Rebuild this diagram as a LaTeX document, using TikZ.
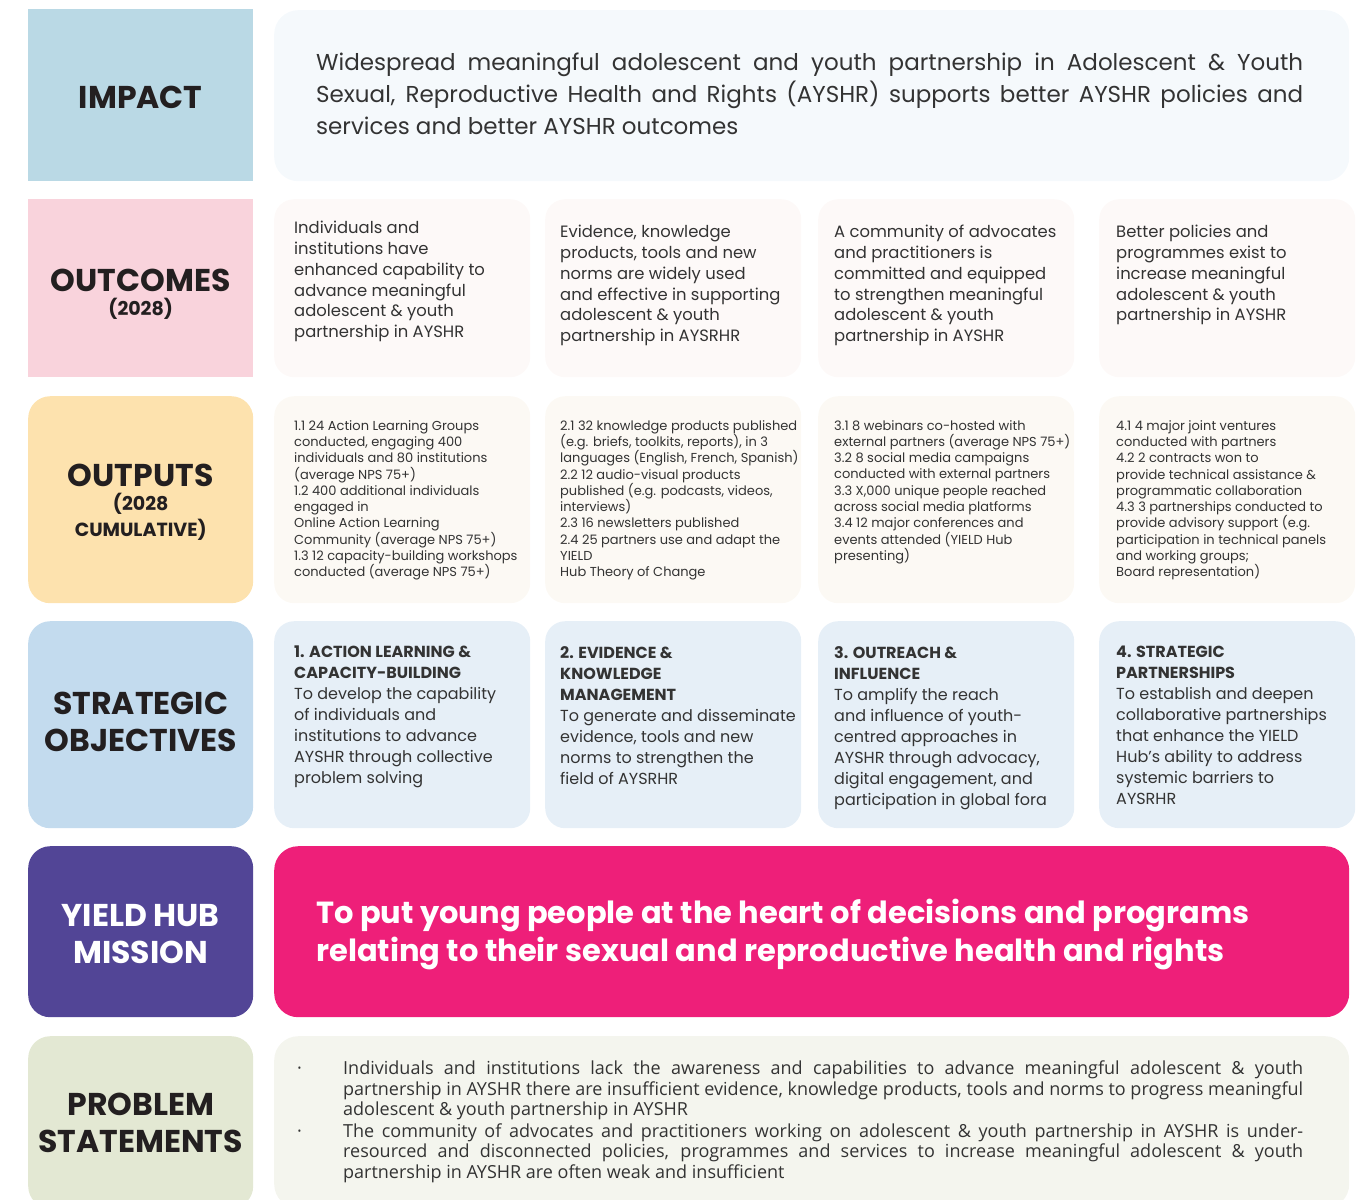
\documentclass[tikz,border=0pt]{standalone}
\usepackage{fontspec}
\setmainfont{Poppins}
\newfontfamily\listfont{Open Sans}
\usetikzlibrary{positioning}
\usepackage{xcolor}
\definecolor{impactblue}{HTML}{BAD9E5}
\definecolor{impactpale}{HTML}{F5F9FC}
\definecolor{outcomepink}{HTML}{F9D3DC}
\definecolor{outcomepale}{HTML}{FDF9F8}
\definecolor{outputsand}{HTML}{FDE2AE}
\definecolor{outputpale}{HTML}{FCF9F4}
\definecolor{objblue}{HTML}{C3DBEE}
\definecolor{objpale}{HTML}{E6EFF7}
\definecolor{missionpurple}{HTML}{524596}
\definecolor{missionpink}{HTML}{EE1F79}
\definecolor{problemsage}{HTML}{E3E8D3}
\definecolor{problempale}{HTML}{F4F5EE}
\definecolor{tagtext}{HTML}{231F20}
\definecolor{bodytext}{HTML}{333333}

\begin{document}
\begin{tikzpicture}[x=1pt, y=-1pt,
    tag/.style={rounded corners=22pt, minimum width=225pt, anchor=north west, inner sep=0pt},
    tagtext/.style={inner sep=0pt, align=center, text=tagtext, font=\bfseries\fontsize{31.5}{37}\selectfont},
    wide/.style={rounded corners=24pt, minimum width=1075pt, anchor=north west, inner sep=0pt},
    card/.style={rounded corners=20pt, minimum width=256pt, anchor=north west, inner sep=0pt},
    cardtext/.style={anchor=north west, inner sep=0pt, align=left, text=bodytext},
    outcometext/.style={cardtext, font=\fontsize{16.4}{20.8}\selectfont},
    outputtext/.style={cardtext, font=\fontsize{13}{16.3}\selectfont},
    objtext/.style={cardtext, font=\fontsize{16}{21}\selectfont},
    bullet/.style={anchor=north west, inner sep=0pt, text width=960pt, align=justify, text=bodytext,
                   font=\listfont\fontsize{18}{20.8}\selectfont},
    dot/.style={anchor=north west, inner sep=0pt, text=bodytext, font=\listfont\fontsize{18}{20.8}\selectfont}]
  \useasboundingbox (0,0) rectangle (1364,1199);

  % impact
  \node[tag, sharp corners, fill=impactblue, minimum height=172pt] (impact) at (28,9) {};
  \node[tagtext] (impactlabel) at ([yshift=-2pt]impact.center) {IMPACT};
  \node[wide, fill=impactpale, minimum height=171pt] (impactbox) at (274,10) {};
  \node[anchor=north west, inner sep=0pt, text width=987pt, align=justify, text=bodytext,
        font=\fontsize{23}{32}\selectfont] (impacttext) at (316,53)
    {Widespread meaningful adolescent and youth partnership in Adolescent \& Youth\linebreak
     Sexual, Reproductive Health and Rights (AYSHR) supports better AYSHR policies and\linebreak
     services and better AYSHR outcomes};

  % outcomes
  \node[tag, sharp corners, fill=outcomepink, minimum height=178pt] (outcomes) at (28,199) {};
  \node[tagtext] (outcomeslabel) at ([yshift=-6pt]outcomes.center)
    {OUTCOMES\\[-13pt]{\fontsize{19}{23}\selectfont (2028)}};
  \node[card, fill=outcomepale, minimum height=178pt] (oc1) at (274,199) {};
  \node[card, fill=outcomepale, minimum height=178pt] (oc2) at (545,199) {};
  \node[card, fill=outcomepale, minimum height=178pt] (oc3) at (818,199) {};
  \node[card, fill=outcomepale, minimum height=178pt] (oc4) at (1099,199) {};
  \node[outcometext] (oc1t) at (294,221)
    {Individuals and\\institutions have\\enhanced capability to\\advance meaningful\\adolescent \& youth\\partnership in AYSHR};
  \node[outcometext] (oc2t) at (560,225)
    {Evidence, knowledge\\products, tools and new\\norms are widely used\\and effective in supporting\\adolescent \& youth\\partnership in AYSRHR};
  \node[outcometext] (oc3t) at (834,225)
    {A community of advocates\\and practitioners is\\committed and equipped\\to strengthen meaningful\\adolescent \& youth\\partnership in AYSHR};
  \node[outcometext] (oc4t) at (1116,225)
    {Better policies and\\programmes exist to\\increase meaningful\\adolescent \& youth\\partnership in AYSHR};

  % outputs
  \node[tag, fill=outputsand, minimum height=207pt] (outputs) at (28,396) {};
  \node[tagtext] (outputslabel) at ([yshift=-3pt]outputs.center)
    {OUTPUTS\\[-13pt]{\fontsize{19}{23}\selectfont (2028}\\[-11pt]{\fontsize{19}{23}\selectfont CUMULATIVE)}};
  \node[card, fill=outputpale, minimum height=207pt] (op1) at (274,396) {};
  \node[card, fill=outputpale, minimum height=207pt] (op2) at (545,396) {};
  \node[card, fill=outputpale, minimum height=207pt] (op3) at (818,396) {};
  \node[card, fill=outputpale, minimum height=207pt] (op4) at (1099,396) {};
  \node[outputtext] (op1t) at (294,420)
    {1.1 24 Action Learning Groups\\conducted, engaging 400\\individuals and 80 institutions\\(average NPS 75+)\\
     1.2 400 additional individuals\\engaged in\\Online Action Learning\\Community (average NPS 75+)\\
     1.3 12 capacity-building workshops\\conducted (average NPS 75+)};
  \node[outputtext] (op2t) at (560,420)
    {2.1 32 knowledge products published\\(e.g. briefs, toolkits, reports), in 3\\languages (English, French, Spanish)\\
     2.2 12 audio-visual products\\published (e.g. podcasts, videos,\\interviews)\\
     2.3 16 newsletters published\\2.4 25 partners use and adapt the\\YIELD\\Hub Theory of Change};
  \node[outputtext] (op3t) at (834,420)
    {3.1 8 webinars co-hosted with\\external partners (average NPS 75+)\\
     3.2 8 social media campaigns\\conducted with external partners\\
     3.3 X,000 unique people reached\\across social media platforms\\
     3.4 12 major conferences and\\events attended (YIELD Hub\\presenting)};
  \node[outputtext] (op4t) at (1116,420)
    {4.1 4 major joint ventures\\conducted with partners\\
     4.2 2 contracts won to\\provide technical assistance \&\\programmatic collaboration\\
     4.3 3 partnerships conducted to\\provide advisory support (e.g.\\participation in technical panels\\and working groups;\\Board representation)};

  % strategic objectives
  \node[tag, fill=objblue, minimum height=207pt] (objectives) at (28,621) {};
  \node[tagtext] (objectiveslabel) at ([yshift=3pt]objectives.center) {STRATEGIC\\OBJECTIVES};
  \node[card, fill=objpale, minimum height=207pt] (ob1) at (274,621) {};
  \node[card, fill=objpale, minimum height=207pt] (ob2) at (545,621) {};
  \node[card, fill=objpale, minimum height=207pt] (ob3) at (818,621) {};
  \node[card, fill=objpale, minimum height=207pt] (ob4) at (1099,621) {};
  \node[objtext] (ob1t) at (294,646)
    {\textbf{1. ACTION LEARNING \&}\\\textbf{CAPACITY-BUILDING}\\To develop the capability\\of individuals and\\
     institutions to advance\\AYSHR through collective\\problem solving};
  \node[objtext] (ob2t) at (560,646)
    {\textbf{2. EVIDENCE \&}\\\textbf{KNOWLEDGE}\\\textbf{MANAGEMENT}\\To generate and disseminate\\
     evidence, tools and new\\norms to strengthen the\\field of AYSRHR};
  \node[objtext] (ob3t) at (834,646)
    {\textbf{3. OUTREACH \&}\\\textbf{INFLUENCE}\\To amplify the reach\\and influence of youth-\\
     centred approaches in\\AYSHR through advocacy,\\digital engagement, and\\participation in global fora};
  \node[objtext] (ob4t) at (1116,646)
    {\textbf{4. STRATEGIC}\\\textbf{PARTNERSHIPS}\\To establish and deepen\\collaborative partnerships\\
     that enhance the YIELD\\Hub's ability to address\\systemic barriers to\\AYSRHR};

  % mission
  \node[tag, fill=missionpurple, minimum height=171pt] (mission) at (28,846) {};
  \node[tagtext, text=white] (missionlabel) at ([yshift=-2pt]mission.center) {YIELD HUB\\MISSION};
  \node[wide, fill=missionpink, minimum height=171pt] (missionbox) at (274,846) {};
  \node[anchor=north west, inner sep=0pt, align=left, text=white,
        font=\bfseries\fontsize{30.5}{38}\selectfont] (missiontext) at (316,899)
    {To put young people at the heart of decisions and programs\\
     relating to their sexual and reproductive health and rights};

  % problem statements
  \node[tag, fill=problemsage, minimum height=172pt] (problems) at (28,1036) {};
  \node[tagtext] (problemslabel) at ([yshift=-1pt]problems.center) {PROBLEM\\STATEMENTS};
  \node[wide, fill=problempale, minimum height=172pt] (problembox) at (274,1036) {};
  \node[bullet] (problem1) at (343,1059.5)
    {\strut Individuals and institutions lack the awareness and capabilities to advance meaningful adolescent \& youth\linebreak
     partnership in AYSHR there are insufficient evidence, knowledge products, tools and norms to progress meaningful\linebreak
     adolescent \& youth partnership in AYSHR\strut};
  \node[bullet, below=0pt of problem1.south west, anchor=north west] (problem2)
    {\strut The community of advocates and practitioners working on adolescent \& youth partnership in AYSHR is under-\linebreak
     resourced and disconnected policies, programmes and services to increase meaningful adolescent \& youth\linebreak
     partnership in AYSHR are often weak and insufficient\strut};
  \node[dot] (dot1) at ([xshift=-46pt]problem1.north west) {\strut\textperiodcentered};
  \node[dot] (dot2) at ([xshift=-46pt]problem2.north west) {\strut\textperiodcentered};
\end{tikzpicture}
\end{document}
